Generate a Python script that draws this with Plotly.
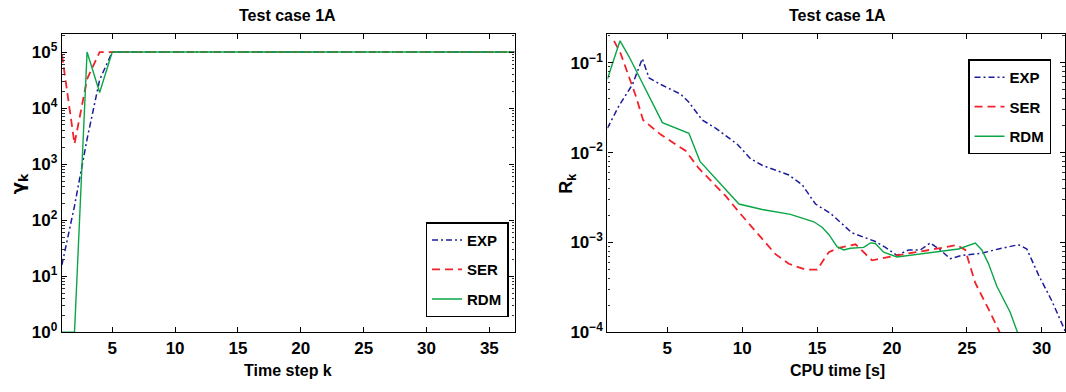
import plotly.graph_objects as go

# ---------------- data ----------------
steps = list(range(1, 38))
gamma_exp = [16, 180, 2800, 32000] + [1e5] * 33
gamma_ser = [90000, 2300, 33000, 1e5] + [1e5] * 33
gamma_rdm = [1, 1, 1e5, 19000] + [1e5] * 33

t_exp = [1.0, 1.78, 2.67, 3.33, 3.78, 4.56, 5.89, 6.44, 7.33, 8.22, 9.67, 10.56, 11.33,
         13.11, 14.0, 14.89, 15.89, 17.33, 18.89, 19.56, 20.33, 21.11, 21.89, 22.56,
         23.22, 23.89, 24.67, 26.0, 27.11, 28.44, 29.0, 29.78, 30.67, 31.6]
r_exp = [0.01875, 0.0335, 0.0574, 0.1114, 0.0678, 0.0574, 0.0448, 0.0364, 0.0231, 0.01875,
         0.0124, 0.00855, 0.00724, 0.00565, 0.0044, 0.00268, 0.00211, 0.00128, 0.001026,
         0.000883, 0.000718, 0.000826, 0.000826, 0.00099, 0.000826, 0.00066, 0.000718,
         0.00076, 0.000847, 0.000944, 0.000847, 0.000436, 0.000224, 0.0001]

t_ser = [1.44, 1.89, 2.89, 3.38, 4.56, 6.22, 7.11, 8.89, 9.78, 11.11, 12.22, 13.11, 14.22,
         15.0, 15.78, 16.44, 17.56, 18.67, 20.33, 22.89, 24.33, 24.89, 25.56, 26.44, 27.22]
r_ser = [0.176, 0.126, 0.043, 0.0231, 0.0159, 0.0105, 0.00667, 0.0033, 0.00218, 0.00122,
         0.000741, 0.000579, 0.000499, 0.000499, 0.00078, 0.000871, 0.000955, 0.000632,
         0.000718, 0.000847, 0.000935, 0.000826, 0.000354, 0.000182, 0.0000977]

t_rdm = [1.0, 1.84, 2.44, 4.67, 6.44, 7.18, 9.78, 11.33, 13.22, 14.78, 15.33, 15.78, 16.33,
         16.78, 17.22, 17.78, 18.11, 18.56, 18.89, 19.44, 20.33, 24.44, 25.56, 26.0, 26.44,
         27.0, 27.89, 28.4]
r_rdm = [0.066, 0.176, 0.1175, 0.0216, 0.01644, 0.0080, 0.00268, 0.00233, 0.002056, 0.0017,
         0.00148, 0.00123, 0.000897, 0.000826, 0.000861, 0.000883, 0.000883, 0.00099,
         0.000975, 0.00078, 0.000689, 0.000847, 0.000984, 0.000826, 0.000582, 0.000326,
         0.000167, 0.0000977]

series_names = ["EXP", "SER", "RDM"]
left_xticks = [5, 10, 15, 20, 25, 30, 35]
right_xticks = [5, 10, 15, 20, 25, 30]
left_yexp = [0, 1, 2, 3, 4, 5]
right_yexp = [-4, -3, -2, -1]

# ---------------- styles ----------------
W, H = 1066, 392
FONT = "Liberation Sans"
BLUE = "#1c1c9c"
RED = "#f2222a"
GREEN = "#0aa646"
styles = {
    "EXP": dict(color=BLUE, width=1.5, dash="6px,3px,2px,3px"),
    "SER": dict(color=RED, width=1.8, dash="8px,5px"),
    "RDM": dict(color=GREEN, width=1.4, dash="solid"),
}

fig = go.Figure()
left_data = {"EXP": gamma_exp, "SER": gamma_ser, "RDM": gamma_rdm}
for n in series_names:
    fig.add_trace(go.Scatter(x=steps, y=left_data[n], mode="lines", name=n,
                             line=styles[n], xaxis="x", yaxis="y",
                             legend="legend", legendgroup="L" + n))
right_data = {"EXP": (t_exp, r_exp), "SER": (t_ser, r_ser), "RDM": (t_rdm, r_rdm)}
for n in series_names:
    tx, ry = right_data[n]
    fig.add_trace(go.Scatter(x=tx, y=ry, mode="lines", name=n,
                             line=styles[n], xaxis="x2", yaxis="y2",
                             legend="legend2", legendgroup="R" + n))


def minor_vals(exps):
    vals = []
    for e in range(min(exps) - 1, max(exps) + 1):
        for m in range(2, 10):
            vals.append(m * 10.0 ** e)
    return vals


tickfont = dict(family=FONT, size=17, color="black", weight="bold")
common_x = dict(showline=True, linecolor="black", linewidth=1.3, mirror="ticks",
                ticks="inside", ticklen=5, tickcolor="black", tickwidth=1,
                showgrid=False, zeroline=False, tickfont=tickfont, tickmode="array")
common_y = dict(common_x, type="log",
                minor=dict(ticks="inside", ticklen=2.5, tickcolor="#333", tickwidth=0.8,
                           showgrid=False))

ydom = [1 - 341 / H, 1 - 35 / H]
legend_common = dict(xanchor="right", yanchor="top",
                     bordercolor="black", borderwidth=1.5, bgcolor="white",
                     font=dict(family=FONT, size=15, color="black", weight="bold"),
                     tracegroupgap=7, itemwidth=30)
fig.update_layout(
    autosize=True,
    margin=dict(l=0, r=0, t=0, b=0),
    paper_bgcolor="white", plot_bgcolor="white",
    showlegend=True,
    xaxis=dict(common_x, domain=[62 / W, 515 / W], range=[1, 37],
               tickvals=left_xticks, anchor="y"),
    yaxis=dict(common_y, domain=ydom, range=[0, 5.32],
               tickvals=[10.0 ** e for e in left_yexp],
               ticktext=["10<sup>%d</sup>" % e for e in left_yexp],
               minor=dict(common_y["minor"], tickvals=minor_vals(left_yexp)),
               anchor="x"),
    xaxis2=dict(common_x, domain=[608 / W, 1.0], range=[1, 31.55],
                tickvals=right_xticks, anchor="y2"),
    yaxis2=dict(common_y, domain=ydom, range=[-4, -0.68],
                tickvals=[10.0 ** e for e in right_yexp],
                ticktext=["10<sup>\u2212%d</sup>" % (-e) for e in right_yexp],
                minor=dict(common_y["minor"], tickvals=minor_vals(right_yexp)),
                anchor="x2"),
    legend=dict(legend_common, x=509 / W, y=1 - 228 / H),
    legend2=dict(legend_common, x=1052 / W, y=1 - 61 / H),
)

afont = dict(family=FONT, size=16, color="black", weight="bold")
ann = [
    dict(text="Test case 1A", x=288, y=16),
    dict(text="Test case 1A", x=838, y=16),
    dict(text="Time step k", x=288, y=380),
    dict(text="CPU time [s]", x=838, y=380),
]
for a in ann:
    fig.add_annotation(text=a["text"], x=a["x"] / W, y=1 - a["y"] / H,
                       xref="paper", yref="paper", showarrow=False,
                       xanchor="center", yanchor="middle", font=afont)
fig.add_annotation(text="\u03b3<sub>k</sub>", x=19 / W, y=1 - 188 / H,
                   xref="paper", yref="paper", showarrow=False, textangle=-90,
                   xanchor="center", yanchor="middle",
                   font=dict(afont, family="DejaVu Sans", size=18))
fig.add_annotation(text="R<sub>k</sub>", x=568 / W, y=1 - 188 / H,
                   xref="paper", yref="paper", showarrow=False, textangle=-90,
                   xanchor="center", yanchor="middle", font=dict(afont, size=18))

post = (
    "document.documentElement.style.margin='0';"
    "document.documentElement.style.overflow='hidden';"
    "document.body.style.margin='0';"
    "document.body.style.overflow='hidden';"
    "var gd=document.getElementById('{plot_id}');"
    "gd.style.position='fixed';gd.style.top='0px';gd.style.left='0px';"
    "gd.style.width='100vw';gd.style.height='100vh';"
    "Plotly.Plots.resize(gd);"
)
fig.write_html("out.html", default_width="100vw", default_height="100vh",
               config={"displayModeBar": False, "responsive": True},
               post_script=post)
